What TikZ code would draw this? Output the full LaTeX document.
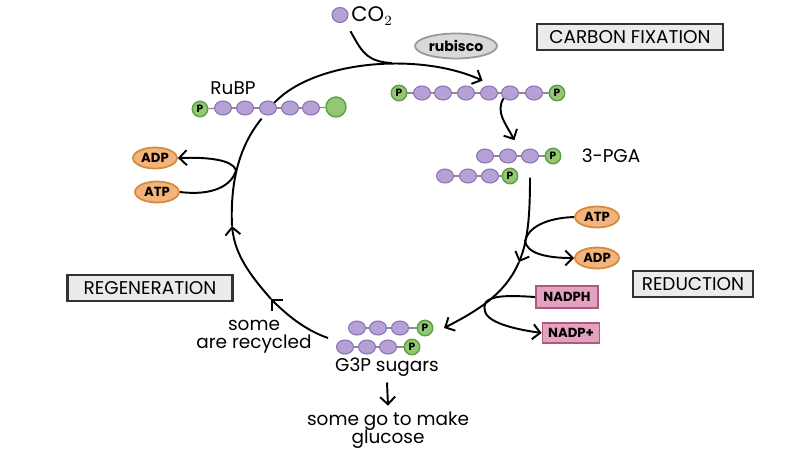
\documentclass[tikz,border=0pt]{standalone}
\usepackage{fontspec}
\setmainfont{Poppins}
\usetikzlibrary{arrows.meta,shapes.geometric}
\definecolor{carbfill}{HTML}{B6A1D6}
\definecolor{carbline}{HTML}{8C72B5}
\definecolor{phosfill}{HTML}{93C872}
\definecolor{phosline}{HTML}{5E9E45}
\definecolor{atpfill}{HTML}{F2B47C}
\definecolor{atpline}{HTML}{D58A3E}
\definecolor{nadfill}{HTML}{E4A2BE}
\definecolor{nadline}{HTML}{B0587E}
\tikzset{
	carb/.style={ellipse, draw=carbline, fill=carbfill, line width=0.6pt, minimum width=0.34cm, minimum height=0.28cm, inner sep=0pt},
	phos/.style={circle, draw=phosline, fill=phosfill, line width=0.8pt, minimum size=0.31cm, inner sep=0pt, font=\fontsize{6}{6}\selectfont\bfseries},
	link/.style={draw=black!45, line width=0.7pt},
	cyc/.style={line width=1.1pt},
	barb/.style={-{Straight Barb[length=1.5mm,width=3mm]}},
	energy/.style={ellipse, draw=atpline, fill=atpfill, line width=1pt, minimum width=0.88cm, minimum height=0.42cm, inner sep=0pt, font=\fontsize{7.5}{8}\selectfont\bfseries},
	carrier/.style={rectangle, draw=nadline, fill=nadfill, line width=1pt, minimum height=0.44cm, inner sep=2pt, font=\fontsize{7.5}{8}\selectfont\bfseries},
	stage/.style={rectangle, draw=black!80, fill=black!8, line width=1.2pt, minimum height=0.52cm, inner sep=2pt, font=\fontsize{10.5}{12}\selectfont},
	lbl/.style={font=\fontsize{10.5}{11}\selectfont}
}

\begin{document}
\begin{tikzpicture}[x=0.02cm, y=-0.02cm]
		%%%%% START %%%%%
		\useasboundingbox (0, 0) rectangle (800, 464);
		\fill[white] (0, 0) rectangle (800, 464);
		
		% stage boxes
		\node[stage, minimum width=3.72cm] (fixbox) at (630, 37) {CARBON FIXATION};
		\node[stage, minimum width=3.3cm] (regbox) at (150, 288) {REGENERATION};
		\node[stage, minimum width=2.4cm] (redbox) at (693, 284) {REDUCTION};
		
		% CO2 and rubisco
		\node[carb, minimum width=0.32cm, minimum height=0.3cm] (co2c) at (340, 15) {};
		\node[lbl, font=\fontsize{12}{12}\selectfont] (co2) at (372, 16) {CO$_2$};
		\node[ellipse, draw=black!40, fill=black!15, line width=1pt, minimum width=1.64cm, minimum height=0.5cm, inner sep=0pt, font=\fontsize{8}{8}\selectfont\bfseries] (rub) at (456, 46) {rubisco};
		
		% RuBP
		\node[lbl] (rubp) at (233, 88) {RuBP};
		\node[phos] (ru0) at (200, 109) {P};
		\foreach \x [count=\i] in {223, 245, 268, 290, 311}
			\node[carb] (ru\i) at (\x, 108) {};
		\node[phos, minimum size=0.4cm] (ru6) at (336, 107) {};
		\foreach \i [remember=\i as \j (initially 0)] in {1,...,6}
			\draw[link] (ru\j) -- (ru\i);
		
		% six carbon chain
		\node[phos] (fx0) at (399, 93) {P};
		\foreach \x [count=\i] in {422, 443, 466, 489, 510, 534}
			\node[carb] (fx\i) at (\x, 93) {};
		\node[phos] (fx7) at (557, 93) {P};
		\foreach \i [remember=\i as \j (initially 0)] in {1,...,7}
			\draw[link] (fx\j) -- (fx\i);
		
		% 3-PGA
		\node[lbl] (pga) at (611, 156) {3-PGA};
		\foreach \x [count=\i] in {485, 508, 530}
			\node[carb] (pa\i) at (\x, 156) {};
		\node[phos] (pa4) at (553, 156) {P};
		\foreach \x [count=\i] in {445, 468, 490}
			\node[carb] (pb\i) at (\x, 176) {};
		\node[phos] (pb4) at (510, 176) {P};
		\foreach \i [remember=\i as \j (initially 1)] in {2,...,4}{
			\draw[link] (pa\j) -- (pa\i);
			\draw[link] (pb\j) -- (pb\i);
		}
		
		% G3P
		\foreach \x [count=\i] in {357, 378, 400}
			\node[carb] (ga\i) at (\x, 328) {};
		\node[phos] (ga4) at (425, 328) {P};
		\foreach \x [count=\i] in {345, 367, 388}
			\node[carb] (gb\i) at (\x, 347) {};
		\node[phos] (gb4) at (412, 347) {P};
		\foreach \i [remember=\i as \j (initially 1)] in {2,...,4}{
			\draw[link] (ga\j) -- (ga\i);
			\draw[link] (gb\j) -- (gb\i);
		}
		\node[lbl] (g3p) at (387, 367) {G3P sugars};
		\node[lbl, align=center] (recyc) at (254, 337) {some\\[-1pt]are recycled};
		\node[lbl, align=center] (gluc) at (388, 430) {some go to make\\[-1pt]glucose};
		\draw[cyc, barb] (g3p.south) -- (gluc.north);
		
		% ATP / ADP / NADPH
		\node[energy] (adpL) at (155, 158) {ADP};
		\node[energy] (atpL) at (157, 192) {ATP};
		\node[energy] (atpR) at (597, 217) {ATP};
		\node[energy] (adpR) at (597, 258) {ADP};
		\node[carrier, minimum width=1.24cm] (nadph) at (567, 297) {NADPH};
		\node[carrier, minimum width=1.14cm, minimum height=0.4cm] (nadp) at (571, 333) {NADP+};
		
		% cycle
		\coordinate (m1) at (519, 262);
		\coordinate (m2) at (271, 299);
		\coordinate (m3) at (232, 226);
		\coordinate (rstart) at (328, 338);
		\coordinate (merge) at (392, 63);
		\coordinate (jl) at (236, 170);
		\coordinate (jr) at (525, 241);
		\coordinate (jn) at (486, 302);
		
		\draw[cyc, barb] (ru3.north east) .. controls (315, 60) and (420, 52) .. ([yshift=4pt]fx4.north west);
		\draw[cyc] ([xshift=3pt]co2.south west) .. controls (361, 50) and (366, 62) .. (merge);
		\draw[cyc, barb] (fx5.south west) .. controls (495, 112) and (506, 124) .. ([yshift=6pt]pa2.north east);
		\draw[cyc, barb] ([yshift=-8pt]pa3.south) .. controls (530, 215) and (528, 240) .. (m1);
		\draw[cyc, barb] (m1) .. controls (505, 295) and (475, 312) .. ([xshift=6pt]ga4.east);
		\draw[cyc, barb] (rstart) .. controls (305, 330) and (287, 315) .. (m2);
		\draw[cyc, barb] (m2) .. controls (250, 275) and (235, 255) .. (m3);
		\draw[cyc] (m3) .. controls (230, 180) and (240, 145) .. ([yshift=-3pt]ru3.south west);
		
		% branches
		\draw[cyc, barb] (atpL.east) .. controls (212, 196) and (232, 186) .. (jl) .. controls (232, 160) and (210, 157) .. (adpL.east);
		\draw[cyc, barb] (atpR.west) .. controls (545, 218) and (528, 228) .. (jr) .. controls (527, 253) and (545, 258) .. (adpR.west);
		\draw[cyc, barb] (nadph.west) .. controls (505, 295) and (492, 296) .. (jn) .. controls (478, 318) and (500, 327) .. (nadp.west);
		
		%%%%% END %%%%%
	\end{tikzpicture}
\end{document}
